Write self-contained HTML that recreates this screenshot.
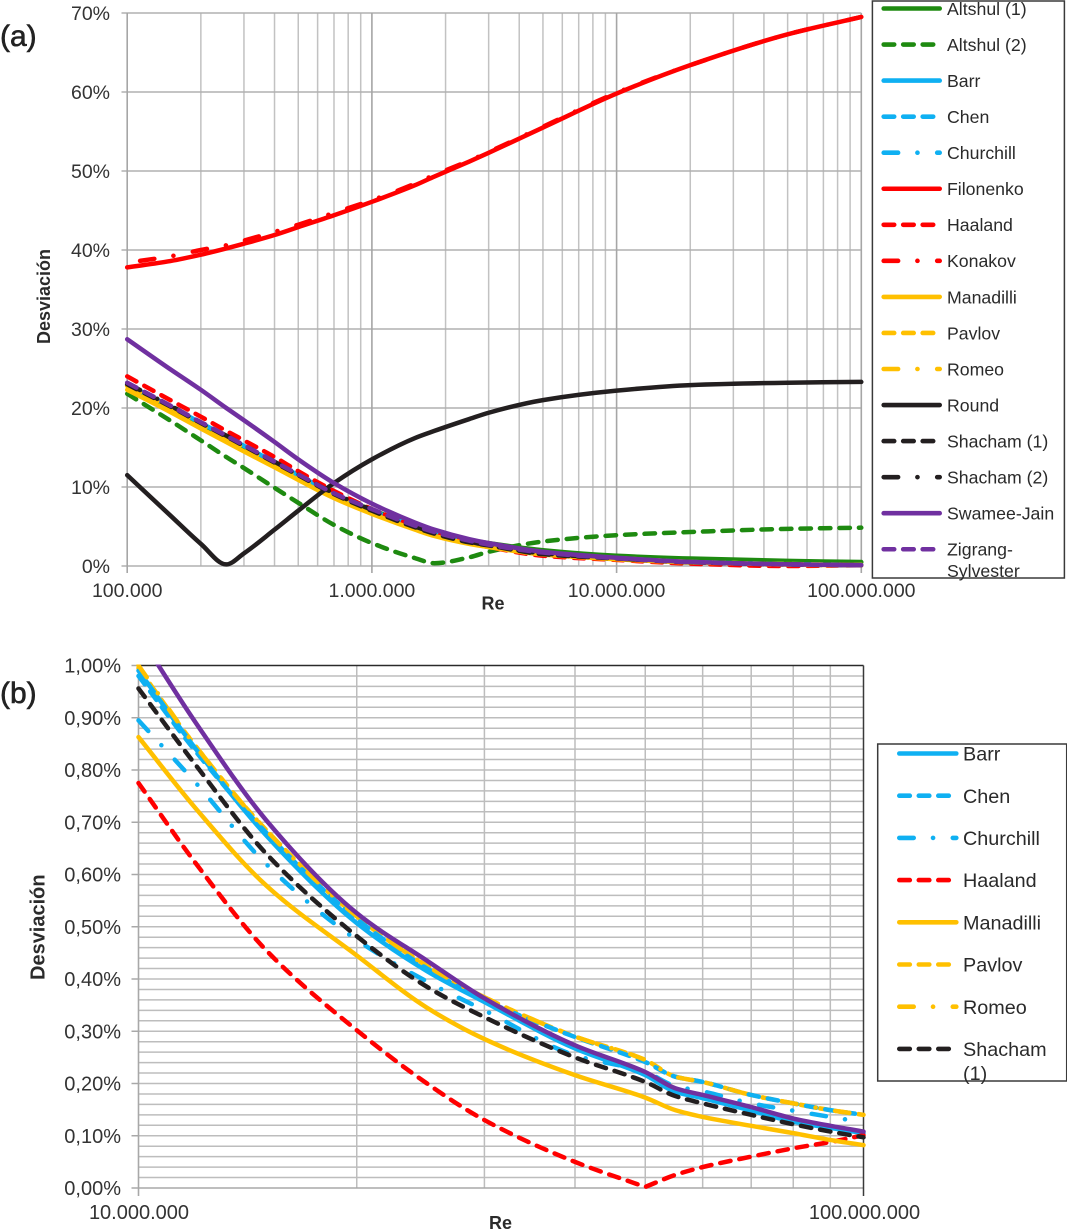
<!DOCTYPE html>
<html lang="es">
<head>
<meta charset="utf-8">
<title>Desviación frente a Re</title>
<style>
html,body{margin:0;padding:0;background:#fff;}
body{width:1067px;height:1231px;overflow:hidden;}
svg{display:block;font-family:"Liberation Sans",sans-serif;}
</style>
</head>
<body>
<svg id="figure" xmlns="http://www.w3.org/2000/svg" width="1067" height="1231" viewBox="0 0 1067 1231">
  <defs>
    <clipPath id="clip-b"><rect x="130" y="664.5" width="736" height="535"></rect></clipPath>
  </defs>
  <rect x="0" y="0" width="1067" height="1231" fill="#fff"></rect>
  <text x="0" y="46" font-size="30" fill="#222" stroke="#222" stroke-width="0.6">(a)</text>
  <text x="0" y="703" font-size="30" fill="#222" stroke="#222" stroke-width="0.6">(b)</text>
  <g id="chart-a"></g>
  <g id="chart-b"></g>
</svg>
<script>
// ---------- chart (a) data ----------
const aRe = [1e5,1.5e5,2e5,2.54e5,3e5,4e5,5e5,7e5,1e6,1.5e6,1.8e6,2.5e6,3e6,5e6,1e7,2e7,5e7,1e8];
const aAltshul1  = [23.0,20.1,18.0,16.3,15.1,13.0,11.4,9.1,7.1,5.1,4.4,3.3,2.9,2.0,1.3,0.95,0.65,0.5];
const aAltshul2  = [21.8,18.4,15.9,13.8,12.4,9.9,8.0,5.2,2.9,1.0,0.35,1.1,1.8,3.1,3.9,4.3,4.7,4.85];
const aBarr      = [23.0,20.2,18.1,16.4,15.2,13.1,11.5,9.1,7.0,5.0,4.2,3.1,2.6,1.6,0.99,0.50,0.22,0.10];
const aChen      = [23.0,20.2,18.1,16.4,15.2,13.1,11.5,9.1,7.0,5.0,4.2,3.1,2.6,1.6,0.98,0.51,0.24,0.14];
const aChurchill = [22.9,20.1,18.0,16.3,15.1,13.0,11.4,9.0,6.9,4.9,4.1,3.0,2.5,1.5,0.90,0.47,0.22,0.13];
const aFilonenko = [37.8,38.6,39.4,40.2,40.8,41.9,42.9,44.4,46.1,48.2,49.3,51.2,52.3,55.5,59.8,63.4,67.3,69.5];
const aHaaland   = [24.0,21.0,18.9,17.1,15.9,13.8,12.0,9.5,7.2,5.0,4.1,2.9,2.4,1.3,0.77,0.30,0.002,0.10];
const aKonakov   = [38.4,39.2,40.0,40.6,41.2,42.3,43.2,44.7,46.3,48.4,49.5,51.3,52.4,55.6,59.9,63.4,67.3,69.5];
const aManadilli = [22.3,19.5,17.4,15.7,14.5,12.5,10.9,8.6,6.6,4.6,3.8,2.8,2.4,1.45,0.86,0.44,0.18,0.08];
const aPavlov    = [22.8,20.0,17.9,16.2,15.0,12.9,11.3,8.9,6.8,4.8,4.0,2.9,2.5,1.5,0.99,0.51,0.24,0.14];
const aRomeo     = [22.8,20.0,17.9,16.2,15.0,12.9,11.3,8.9,6.8,4.8,4.0,2.9,2.5,1.5,1.00,0.52,0.24,0.14];
const aRound     = [11.5,6.4,2.8,0.2,1.6,4.6,7.0,10.5,13.5,16.2,17.1,18.6,19.4,21.0,22.2,22.9,23.2,23.3];
const aShacham1  = [23.0,20.2,18.1,16.4,15.2,13.1,11.5,9.1,7.0,4.9,4.1,3.0,2.6,1.5,0.955,0.48,0.20,0.097];
const aShacham2  = [23.1,20.3,18.2,16.5,15.3,13.2,11.6,9.2,7.1,5.0,4.2,3.1,2.6,1.6,0.96,0.49,0.21,0.10];
const aSwamee    = [28.7,24.9,22.3,20.0,18.45,15.7,13.5,10.5,7.9,5.5,4.6,3.4,2.9,1.8,1.04,0.52,0.21,0.11];
const aZigrang   = [23.2,20.3,18.2,16.5,15.3,13.2,11.6,9.2,7.2,5.1,4.3,3.2,2.7,1.7,0.98,0.50,0.20,0.10];
const aYTickValues = [0,10,20,30,40,50,60,70];
const aYTickLabels = ['0%','10%','20%','30%','40%','50%','60%','70%'];
const aXTickValues = [1e5,1e6,1e7,1e8];
const aXTickLabels = ['100.000','1.000.000','10.000.000','100.000.000'];

// ---------- chart (b) data ----------
const bRe = [1e7,1.2e7,1.5e7,2e7,2.5e7,3e7,4e7,5e7,5.5e7,6e7,7e7,8e7,9e7,1e8];
const bBarr      = [0.99,0.84,0.675,0.507,0.415,0.356,0.267,0.216,0.184,0.172,0.148,0.127,0.115,0.105];
const bChen      = [0.98,0.835,0.68,0.515,0.42,0.36,0.289,0.241,0.213,0.203,0.178,0.162,0.149,0.14];
const bChurchill = [0.895,0.775,0.62,0.475,0.395,0.34,0.254,0.222,0.195,0.185,0.162,0.148,0.136,0.126];
const bHaaland   = [0.775,0.621,0.455,0.302,0.20,0.13,0.05,0.002,0.025,0.04,0.06,0.076,0.088,0.101];
const bManadilli = [0.863,0.726,0.579,0.445,0.345,0.285,0.216,0.173,0.149,0.136,0.119,0.105,0.092,0.082];
const bPavlov    = [0.995,0.845,0.685,0.52,0.425,0.365,0.29,0.245,0.213,0.203,0.178,0.162,0.149,0.14];
const bRomeo     = [1.0,0.845,0.685,0.52,0.425,0.365,0.29,0.245,0.213,0.203,0.178,0.162,0.149,0.14];
const bShacham1  = [0.956,0.809,0.64,0.482,0.385,0.327,0.25,0.203,0.176,0.162,0.14,0.122,0.108,0.097];
const bSwamee    = [1.06,0.89,0.704,0.526,0.435,0.363,0.273,0.222,0.191,0.178,0.155,0.133,0.119,0.108];
const bYTickValues = [0,0.1,0.2,0.3,0.4,0.5,0.6,0.7,0.8,0.9,1.0];
const bYTickLabels = ['0,00%','0,10%','0,20%','0,30%','0,40%','0,50%','0,60%','0,70%','0,80%','0,90%','1,00%'];
const bXTickValues = [1e7,1e8];
const bXTickLabels = ['10.000.000','100.000.000'];

// ---------- axis functions ----------
const xA = re => 127.2 + 244.7 * (Math.log10(re) - 5);
const yA = v => 566 - 7.9 * v;
const xB = re => 138.5 + 725 * (Math.log10(re) - 7);
const yB = v => 1188 - 522.5 * v;

// ---------- style helpers ----------
const C = {green:'#1e8a10', blue:'#0fb0f2', red:'#ff0000', orange:'#ffc000', black:'#231f20', purple:'#7030a0'};
const DASH = {solid:'none', dash:'10.5 9', dashdot:'14.4 19.3 0.1 19.7'};
const NS = 'http://www.w3.org/2000/svg';

function mk(tag, parent, attrs, text) {
  const el = document.createElementNS(NS, tag);
  for (const k in attrs) el.setAttribute(k, attrs[k]);
  if (text !== undefined) el.textContent = text;
  parent.appendChild(el);
  return el;
}

function slug(s) {
  return s.toLowerCase().replace(/[^a-z0-9]+/g, '-').replace(/^-|-$/g, '');
}

// Monotone cubic through the points; sharp=true keeps minima as hard corners.
function curvePath(pts, sharp) {
  const n = pts.length;
  const mL = new Array(n).fill(0), mR = new Array(n).fill(0);
  for (let i = 1; i < n - 1; i++) {
    const h0 = pts[i][0] - pts[i - 1][0], h1 = pts[i + 1][0] - pts[i][0];
    const d0 = (pts[i][1] - pts[i - 1][1]) / h0, d1 = (pts[i + 1][1] - pts[i][1]) / h1;
    if (d0 * d1 <= 0) {
      mL[i] = sharp ? d0 : 0;
      mR[i] = sharp ? d1 : 0;
    } else {
      mL[i] = mR[i] = 3 * (h0 + h1) / ((2 * h1 + h0) / d0 + (h1 + 2 * h0) / d1);
    }
  }
  mR[0] = (pts[1][1] - pts[0][1]) / (pts[1][0] - pts[0][0]);
  mL[n - 1] = (pts[n - 1][1] - pts[n - 2][1]) / (pts[n - 1][0] - pts[n - 2][0]);
  let d = 'M' + pts[0][0].toFixed(2) + ' ' + pts[0][1].toFixed(2);
  for (let i = 1; i < n; i++) {
    const p = pts[i - 1], q = pts[i], h = (q[0] - p[0]) / 3;
    d += ' C' + (p[0] + h).toFixed(2) + ' ' + (p[1] + mR[i - 1] * h).toFixed(2) +
         ' ' + (q[0] - h).toFixed(2) + ' ' + (q[1] - mL[i] * h).toFixed(2) +
         ' ' + q[0].toFixed(2) + ' ' + q[1].toFixed(2);
  }
  return d;
}

function drawSeries(g, re, vals, x, y, color, dash, name, offset, sharp) {
  const pts = vals.map((v, i) => [x(re[i]), y(v)]);
  const attrs = {d: curvePath(pts, sharp), fill: 'none', stroke: color, 'stroke-width': 4.5,
    'stroke-linecap': 'round', 'stroke-linejoin': 'round'};
  if (dash !== 'solid') attrs['stroke-dasharray'] = DASH[dash];
  if (offset) attrs['stroke-dashoffset'] = offset;
  const p = mk('path', g, attrs);
  
  
}

function drawLegendEntry(g, label, color, dash, rowY, sx1, sx2, textX, size, secondLine, lineGap) {
  const e = mk('g', g, {});
  
  
  const attrs = {x1: sx1, x2: sx2, y1: rowY, y2: rowY, stroke: color, 'stroke-width': 4.6, 'stroke-linecap': 'round'};
  if (dash !== 'solid') attrs['stroke-dasharray'] = DASH[dash];
  const s = mk('line', e, attrs);
  
  
  const t = mk('text', e, {x: textX, y: rowY + size * 0.36, 'font-size': size, fill: '#2a2a2a'}, label);
  
  
  if (secondLine) {
    const t2 = mk('text', e, {x: textX, y: rowY + size * 0.36 + lineGap, 'font-size': size, fill: '#2a2a2a'}, secondLine);
    
    
  }
}

function axisText(g, name, x, y, size, anchor, label, bold, rotate) {
  const attrs = {x: x, y: y, 'font-size': size, 'text-anchor': anchor, fill: bold ? '#2b2b2b' : '#333'};
  if (bold) attrs['font-weight'] = 'bold';
  if (rotate) attrs.transform = 'rotate(-90 ' + x + ' ' + y + ')';
  const t = mk('text', g, attrs, label);
  
  
}

function gridLine(g, name, x1, y1, x2, y2, color, w) {
  const l = mk('line', g, {x1: x1, y1: y1, x2: x2, y2: y2, stroke: color, 'stroke-width': w});
  
  
}

// ---------- chart (a) ----------
(function () {
  const root = document.getElementById('chart-a');
  const grid = mk('g', root, {});
  
  
  for (let dec = 5; dec < 8; dec++) {
    for (let m = 2; m < 10; m++) {
      const xp = xA(m * Math.pow(10, dec));
      gridLine(grid, 'vertical-minor-gridline', xp, yA(70), xp, yA(0), '#c2c2c2', 1.5);
    }
  }
  aYTickValues.forEach((v, i) => {
    gridLine(grid, 'horizontal-gridline', 121.5, yA(v), xA(1e8), yA(v), '#b0b0b0', 1.6);
    axisText(root, 'y-tick-label', 110, yA(v) + 7, 19.5, 'end', aYTickLabels[i]);
  });
  aXTickValues.forEach((v, i) => {
    gridLine(grid, 'vertical-major-gridline', xA(v), yA(70), xA(v), yA(0) + 7, '#a6a6a6', 1.6);
    axisText(root, 'x-tick-label', xA(v), 597, 19.5, 'middle', aXTickLabels[i]);
  });
  axisText(root, 'y-axis-title', 50, 344, 18, 'start', 'Desviación', true, true);
  axisText(root, 'x-axis-title', 481.5, 609.5, 18, 'start', 'Re', true);

  const lines = mk('g', root, {});
  
  
  drawSeries(lines, aRe, aAltshul1, xA, yA, C.green, 'solid', 'Altshul 1');
  drawSeries(lines, aRe, aAltshul2, xA, yA, C.green, 'dash', 'Altshul 2');
  drawSeries(lines, aRe, aBarr, xA, yA, C.blue, 'solid', 'Barr');
  drawSeries(lines, aRe, aChen, xA, yA, C.blue, 'dash', 'Chen');
  drawSeries(lines, aRe, aChurchill, xA, yA, C.blue, 'dashdot', 'Churchill');
  drawSeries(lines, aRe, aKonakov, xA, yA, C.red, 'dashdot', 'Konakov', 40.5);
  drawSeries(lines, aRe, aFilonenko, xA, yA, C.red, 'solid', 'Filonenko');
  drawSeries(lines, aRe, aHaaland, xA, yA, C.red, 'dash', 'Haaland');
  drawSeries(lines, aRe, aManadilli, xA, yA, C.orange, 'solid', 'Manadilli');
  drawSeries(lines, aRe, aPavlov, xA, yA, C.orange, 'dash', 'Pavlov');
  drawSeries(lines, aRe, aRomeo, xA, yA, C.orange, 'dashdot', 'Romeo');
  drawSeries(lines, aRe, aRound, xA, yA, C.black, 'solid', 'Round');
  drawSeries(lines, aRe, aShacham1, xA, yA, C.black, 'dash', 'Shacham 1');
  drawSeries(lines, aRe, aShacham2, xA, yA, C.black, 'dashdot', 'Shacham 2');
  drawSeries(lines, aRe, aSwamee, xA, yA, C.purple, 'solid', 'Swamee-Jain');
  drawSeries(lines, aRe, aZigrang, xA, yA, C.purple, 'dash', 'Zigrang-Sylvester');

  const leg = mk('g', root, {});
  
  
  const box = mk('rect', leg, {x: 872.4, y: 1, width: 192, height: 577, fill: '#fff', stroke: '#3a3a3a', 'stroke-width': 1.5});
  
  
  const rows = [
    ['Altshul (1)', C.green, 'solid'], ['Altshul (2)', C.green, 'dash'],
    ['Barr', C.blue, 'solid'], ['Chen', C.blue, 'dash'], ['Churchill', C.blue, 'dashdot'],
    ['Filonenko', C.red, 'solid'], ['Haaland', C.red, 'dash'], ['Konakov', C.red, 'dashdot'],
    ['Manadilli', C.orange, 'solid'], ['Pavlov', C.orange, 'dash'], ['Romeo', C.orange, 'dashdot'],
    ['Round', C.black, 'solid'], ['Shacham (1)', C.black, 'dash'], ['Shacham (2)', C.black, 'dashdot'],
    ['Swamee-Jain', C.purple, 'solid'], ['Zigrang-', C.purple, 'dash']
  ];
  rows.forEach((r, i) => {
    drawLegendEntry(leg, r[0], r[1], r[2], 8.5 + i * 36.05, 883.7, 939.7, 947, 17.7,
      r[0] === 'Zigrang-' ? 'Sylvester' : null, 21.5);
  });
})();

// ---------- chart (b) ----------
(function () {
  const root = document.getElementById('chart-b');
  const grid = mk('g', root, {});
  
  
  for (let k = 1; k < 50; k++) {
    gridLine(grid, 'horizontal-minor-gridline', xB(1e7), yB(k * 0.02), xB(1e8), yB(k * 0.02), '#bdbdbd', 1.5);
  }
  for (let m = 2; m < 10; m++) {
    const xp = xB(m * 1e7);
    gridLine(grid, 'vertical-minor-gridline', xp, yB(1), xp, yB(0), '#bdbdbd', 1.5);
  }
  gridLine(grid, 'x-axis-line', xB(1e7), yB(0), xB(1e8), yB(0), '#a8a8a8', 1.6);
  gridLine(grid, 'left-axis-line', xB(1e7), yB(1), xB(1e7), yB(0) + 8, '#a8a8a8', 1.6);
  gridLine(grid, 'plot-top-border', xB(1e7), yB(1), xB(1e8), yB(1), '#2a2a2a', 1.5);
  gridLine(grid, 'plot-right-border', xB(1e8), yB(1), xB(1e8), yB(0) + 8, '#3a3a3a', 1.5);
  bYTickValues.forEach((v, i) => {
    gridLine(grid, 'y-tick-mark', 131.5, yB(v), xB(1e7), yB(v), '#a8a8a8', 1.5);
    axisText(root, 'y-tick-label', 121, yB(v) + 7, 20, 'end', bYTickLabels[i]);
  });
  bXTickValues.forEach((v, i) => {
    axisText(root, 'x-tick-label', xB(v) + (i === 0 ? 0.5 : 1), 1219, 20, 'middle', bXTickLabels[i]);
  });
  axisText(root, 'y-axis-title', 44.5, 980, 20, 'start', 'Desviación', true, true);
  axisText(root, 'x-axis-title', 489, 1229, 18, 'start', 'Re', true);

  const lines = mk('g', root, {'clip-path': 'url(#clip-b)'});
  
  
  drawSeries(lines, bRe, bPavlov, xB, yB, C.orange, 'dash', 'Pavlov');
  drawSeries(lines, bRe, bBarr, xB, yB, C.blue, 'solid', 'Barr');
  drawSeries(lines, bRe, bChen, xB, yB, C.blue, 'dash', 'Chen');
  drawSeries(lines, bRe, bChurchill, xB, yB, C.blue, 'dashdot', 'Churchill');
  drawSeries(lines, bRe, bHaaland, xB, yB, C.red, 'dash', 'Haaland', 0, true);
  drawSeries(lines, bRe, bManadilli, xB, yB, C.orange, 'solid', 'Manadilli');
  drawSeries(lines, bRe, bRomeo, xB, yB, C.orange, 'dashdot', 'Romeo');
  drawSeries(lines, bRe, bShacham1, xB, yB, C.black, 'dash', 'Shacham 1');
  drawSeries(lines, bRe, bSwamee, xB, yB, C.purple, 'solid', 'Swamee-Jain');

  const leg = mk('g', root, {});
  
  
  const box = mk('rect', leg, {x: 877.7, y: 744, width: 189, height: 337, fill: '#fff', stroke: '#3a3a3a', 'stroke-width': 1.5});
  
  
  const rows = [
    ['Barr', C.blue, 'solid'], ['Chen', C.blue, 'dash'], ['Churchill', C.blue, 'dashdot'],
    ['Haaland', C.red, 'dash'], ['Manadilli', C.orange, 'solid'], ['Pavlov', C.orange, 'dash'],
    ['Romeo', C.orange, 'dashdot'], ['Shacham', C.black, 'dash']
  ];
  rows.forEach((r, i) => {
    drawLegendEntry(leg, r[0], r[1], r[2], 753.5 + i * 42.2, 899.3, 956.3, 963, 19.8,
      r[0] === 'Shacham' ? '(1)' : null, 24);
  });
})();
</script>
</body>
</html>
